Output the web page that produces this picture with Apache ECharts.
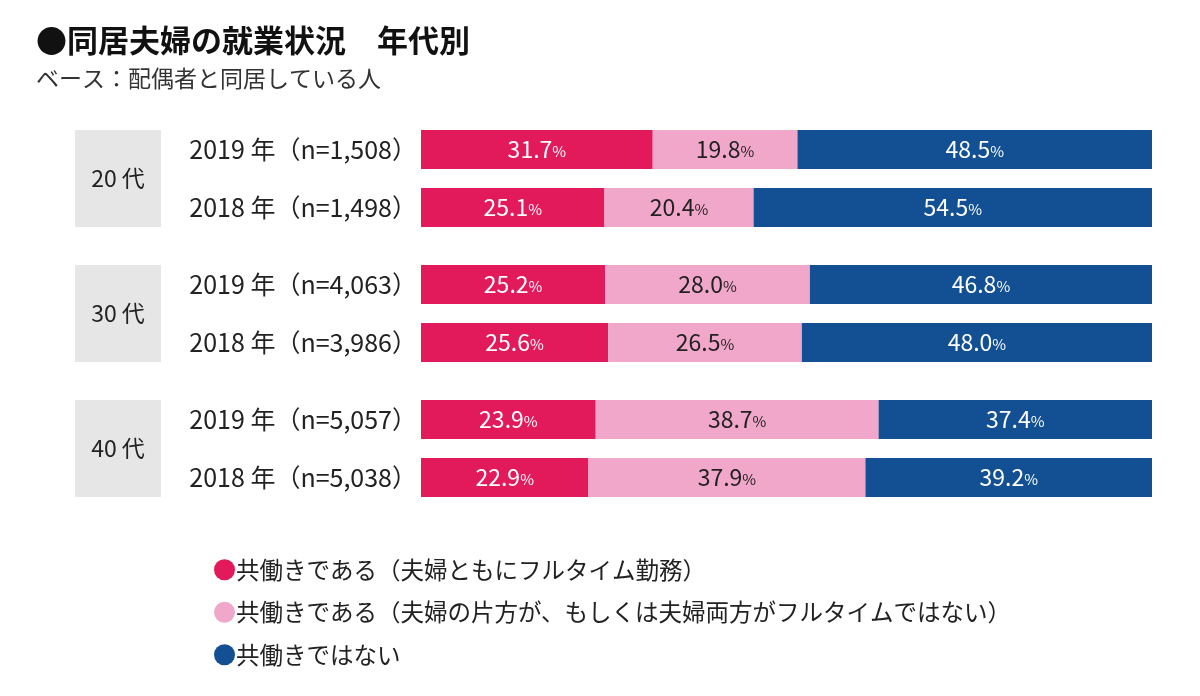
<!DOCTYPE html>
<html><head><meta charset="utf-8">
<script src="https://cdn.jsdelivr.net/npm/echarts@6/dist/echarts.min.js"></script>
<style>html,body{margin:0;padding:0;background:#fff}#c{width:1200px;height:696px}</style>
</head><body><div id="c"></div>
<script>
const groups = ['20 代', '30 代', '40 代'];
const rowLabels = [
  ['2019 年（n=1,508）', '2018 年（n=1,498）'],
  ['2019 年（n=4,063）', '2018 年（n=3,986）'],
  ['2019 年（n=5,057）', '2018 年（n=5,038）']
];
const seriesNames = ['共働きである（夫婦ともにフルタイム勤務）', '共働きである（夫婦の片方が、もしくは夫婦両方がフルタイムではない）', '共働きではない'];
const fullTime = [[31.7, 25.1], [25.2, 25.6], [23.9, 22.9]];
const partTime = [[19.8, 20.4], [28.0, 26.5], [38.7, 37.9]];
const notDual = [[48.5, 54.5], [46.8, 48.0], [37.4, 39.2]];

const colors = ['#e2195b', '#f1a7c9', '#124f93'];
const labelColors = ['#ffffff', '#222222', '#ffffff'];
const FONT = '"Noto Sans CJK JP", "Noto Sans", sans-serif';
const gridTops = [120.5, 255.5, 390.5];

const grid = [], xAxis = [], yAxis = [], series = [];
groups.forEach((g, i) => {
  grid.push({ left: 421, width: 731, top: gridTops[i], height: 116 });
  xAxis.push({ type: 'value', gridIndex: i, min: 0, max: 100, show: false });
  yAxis.push({
    type: 'category', gridIndex: i, data: rowLabels[i], inverse: true,
    axisLine: { show: false }, axisTick: { show: false },
    axisLabel: { margin: 4, fontSize: 25, color: '#222', fontFamily: FONT }
  });
  yAxis.push({
    type: 'category', gridIndex: i, data: [g], position: 'left',
    axisLine: { show: false }, axisTick: { show: false },
    axisLabel: {
      margin: 260, formatter: v => '{b|' + v + '}',
      rich: { b: { width: 86, height: 97, lineHeight: 97, align: 'center', backgroundColor: '#e6e6e6', fontSize: 23, color: '#222', fontFamily: FONT } }
    }
  });
  [fullTime, partTime, notDual].forEach((arr, k) => {
    series.push({
      type: 'bar', name: seriesNames[k], stack: 'g' + i,
      xAxisIndex: i, yAxisIndex: i * 2, data: arr[i], barWidth: 39,
      itemStyle: { color: colors[k] },
      label: {
        show: true, position: 'inside',
        formatter: p => '{n|' + p.value.toFixed(1) + '}{p|%}',
        rich: {
          n: { fontSize: 23, color: labelColors[k], fontFamily: FONT },
          p: { fontSize: 15, color: labelColors[k], fontFamily: FONT, padding: [4, 0, 0, 0] }
        }
      }
    });
  });
});

const chart = echarts.init(document.getElementById('c'));
chart.setOption({
  animation: false,
  color: colors,
  title: {
    text: '●同居夫婦の就業状況　年代別',
    subtext: 'ベース：配偶者と同居している人',
    left: 31, top: 20, itemGap: 11,
    textStyle: { fontSize: 31, fontWeight: 'bold', color: '#111', fontFamily: FONT },
    subtextStyle: { fontSize: 23, color: '#333', fontFamily: FONT }
  },
  legend: {
    orient: 'vertical', left: 209, top: 553, itemGap: 19,
    icon: 'circle', itemWidth: 21, itemHeight: 21,
    data: seriesNames,
    textStyle: { fontSize: 23.5, color: '#222', fontFamily: FONT, padding: [0, 0, 0, -4] }
  },
  grid, xAxis, yAxis, series
});
</script></body></html>
